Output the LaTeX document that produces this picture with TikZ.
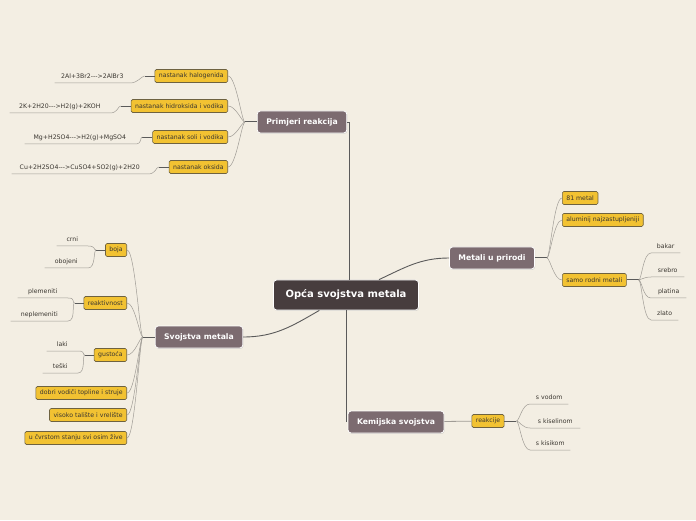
\documentclass[tikz,border=0pt]{standalone}
\usepackage{fontspec}
\setmainfont{DejaVu Sans}[Ligatures=TeXOff]
\usetikzlibrary{positioning, shadows}

\definecolor{paper}{HTML}{F3EEE3}
\definecolor{rootfill}{HTML}{473D3E}
\definecolor{topicfill}{HTML}{7C6B70}
\definecolor{subfill}{HTML}{F2C232}
\definecolor{subedge}{HTML}{6E6240}
\definecolor{trunkcol}{HTML}{5A5A5A}
\definecolor{twigcol}{HTML}{A09C96}
\definecolor{inkcol}{HTML}{3A3630}

\begin{document}
\begin{tikzpicture}[x=1pt, y=1pt,
    root/.style={rectangle, rounded corners=3pt, draw=white, line width=0.8pt, fill=rootfill, text=white,
        font=\fontsize{10}{12}\selectfont\bfseries, minimum height=30pt, inner xsep=12pt,
        drop shadow={shadow xshift=0.6pt, shadow yshift=-0.8pt, opacity=0.3}},
    topic/.style={rectangle, rounded corners=3pt, draw=white, line width=0.8pt, fill=topicfill, text=white,
        font=\fontsize{7.7}{9}\selectfont\bfseries, minimum height=22pt, inner xsep=9pt,
        drop shadow={shadow xshift=0.6pt, shadow yshift=-0.8pt, opacity=0.3}},
    sub/.style={rectangle, rounded corners=1.5pt, draw=subedge, line width=0.6pt, fill=subfill, text=inkcol,
        font=\fontsize{6.2}{7}\selectfont, minimum height=13pt, inner xsep=4pt, inner ysep=0pt},
    leaf/.style={inner xsep=0pt, inner ysep=3pt, text height=4.6pt, text depth=1.5pt, text=inkcol,
        font=\fontsize{6.2}{7}\selectfont},
    trunk/.style={draw=trunkcol, line width=0.9pt},
    stub/.style={draw=trunkcol, line width=1pt},
    twig/.style={draw=twigcol, line width=0.5pt},
    leftfan/.style={out=180, in=0, out distance=3pt, in distance=8pt},
    rightfan/.style={out=0, in=180, out distance=3pt, in distance=8pt}
]

\fill[paper] (0,0) rectangle (696,520);

% Centre and main topics
\node[root] (opca) at (346,225) {Opća svojstva metala};
\node[topic] (primjeri) at (302,398) {Primjeri reakcija};
\node[topic] (metali) at (492,262) {Metali u prirodi};
\node[topic] (svojstva) at (199,183) {Svojstva metala};
\node[topic] (kemijska) at (396,98) {Kemijska svojstva};

\draw[trunk] (primjeri.east) -| ([xshift=3pt]opca.north);
\draw[trunk] (opca) to[out=25, in=180] (metali);
\draw[trunk] (svojstva) to[out=0, in=210] (opca);
\draw[trunk] (opca) -- (opca |- kemijska.west);

% Primjeri reakcija
\node[sub, anchor=east] (halogen) at (228,444) {nastanak halogenida};
\node[sub, anchor=east] (hidroksid) at (228,414) {nastanak hidroksida i vodika};
\node[sub, anchor=east] (soli) at (228,383) {nastanak soli i vodika};
\node[sub, anchor=east] (oksid) at (228,353) {nastanak oksida};

\coordinate[left=12pt of primjeri] (pj);
\draw[stub] (primjeri) -- (pj);
\foreach \n in {halogen, hidroksid, soli, oksid}
    \draw[twig] (pj) to[leftfan] (\n.east);

\node[leaf, anchor=south east, minimum width=75pt] (eq1) at (130,437) {2Al+3Br2--->2AlBr3};
\node[leaf, anchor=south east, minimum width=100pt] (eq2) at (110,407) {2K+2H20--->H2(g)+2KOH};
\node[leaf, anchor=south east, minimum width=110pt] (eq3) at (135,376) {Mg+H2SO4--->H2(g)+MgSO4};
\node[leaf, anchor=south east, minimum width=136pt] (eq4) at (148,346) {Cu+2H2SO4--->CuSO4+SO2(g)+2H20};

\foreach \b/\l in {halogen/eq1, hidroksid/eq2, soli/eq3, oksid/eq4} {
    \coordinate[left=10pt of \b] (\b j);
    \draw[stub, line width=0.7pt] (\b) -- (\b j);
    \draw[twig] (\b j) to[leftfan] (\l.south east) -- (\l.south west);
}

% Svojstva metala
\node[sub, anchor=east] (boja) at (127,270) {boja};
\node[sub, anchor=east] (reakt) at (127,217) {reaktivnost};
\node[sub, anchor=east] (gustoca) at (127,165) {gustoća};
\node[sub, anchor=east] (vodici) at (127,127) {dobri vodiči topline i struje};
\node[sub, anchor=east] (taliste) at (127,105) {visoko talište i vrelište};
\node[sub, anchor=east] (zive) at (127,82) {u čvrstom stanju svi osim žive};

\coordinate[left=12pt of svojstva] (sj);
\draw[stub] (svojstva) -- (sj);
\foreach \n in {boja, reakt, gustoca, vodici, taliste, zive}
    \draw[twig] (sj) to[leftfan] (\n.east);

\node[leaf, anchor=south east, minimum width=31pt] (crni) at (88,274) {crni};
\node[leaf, anchor=south east, minimum width=43pt] (obojeni) at (88,252) {obojeni};
\node[leaf, anchor=south east, minimum width=50pt] (plemeniti) at (68,222) {plemeniti};
\node[leaf, anchor=south east, minimum width=57pt] (neplemeniti) at (68,199) {neplemeniti};
\node[leaf, anchor=south east, minimum width=31pt] (laki) at (78,169) {laki};
\node[leaf, anchor=south east, minimum width=35pt] (teski) at (78,147) {teški};

\foreach \b/\l in {boja/crni, boja/obojeni, reakt/plemeniti, reakt/neplemeniti, gustoca/laki, gustoca/teski} {
    \coordinate[left=9pt of \b] (\b j);
    \draw[stub, line width=0.7pt] (\b) -- (\b j);
    \draw[twig] (\b j) to[leftfan] (\l.south east) -- (\l.south west);
}

% Metali u prirodi
\node[sub, anchor=west] (metal81) at (562,322) {81 metal};
\node[sub, anchor=west] (alum) at (562,300) {aluminij najzastupljeniji};
\node[sub, anchor=west] (rodni) at (562,240) {samo rodni metali};

\coordinate[right=12pt of metali] (mj);
\draw[stub] (metali) -- (mj);
\foreach \n in {metal81, alum, rodni}
    \draw[twig] (mj) to[rightfan] (\n.west);

\node[leaf, anchor=south west, minimum width=29pt] (bakar) at (651,267) {bakar};
\node[leaf, anchor=south west, minimum width=33pt] (srebro) at (651,243) {srebro};
\node[leaf, anchor=south west, minimum width=35pt] (platina) at (651,222) {platina};
\node[leaf, anchor=south west, minimum width=27pt] (zlato) at (651,200) {zlato};

\coordinate[right=12pt of rodni] (rj);
\draw[stub] (rodni) -- (rj);
\foreach \l in {bakar, srebro, platina, zlato}
    \draw[twig] (rj) to[rightfan] (\l.south west) -- (\l.south east);

% Kemijska svojstva
\node[sub] (reakcije) at (488,99) {reakcije};
\draw[twig, line width=0.8pt] (kemijska) -- (reakcije);

\node[leaf, anchor=south west, minimum width=38pt] (vodom) at (530,116) {s vodom};
\node[leaf, anchor=south west, minimum width=50pt] (kiselinom) at (530,92) {s kiselinom};
\node[leaf, anchor=south west, minimum width=40pt] (kisikom) at (530,70) {s kisikom};

\coordinate[right=12pt of reakcije] (kj);
\draw[stub] (reakcije) -- (kj);
\foreach \l in {vodom, kiselinom, kisikom}
    \draw[twig] (kj) to[rightfan] (\l.south west) -- (\l.south east);

\end{tikzpicture}
\end{document}
